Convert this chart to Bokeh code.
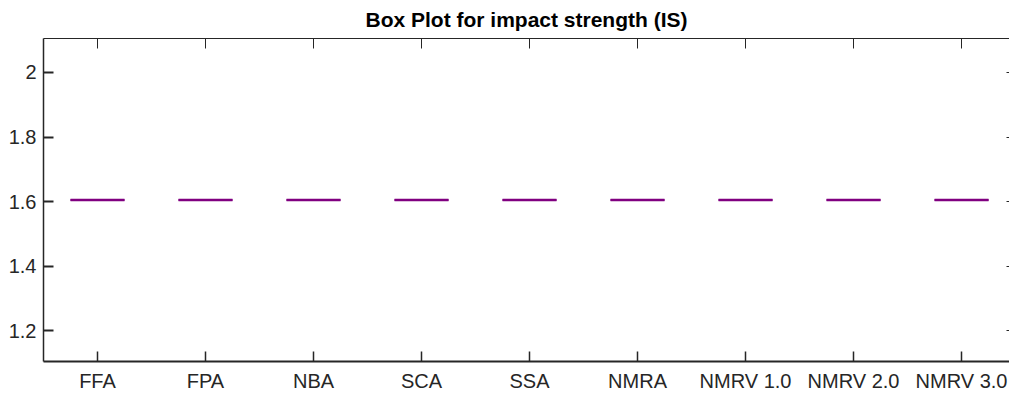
from bokeh.plotting import figure
from bokeh.models import LinearAxis, FixedTicker, Range1d, CustomLabelingPolicy
from bokeh.embed import file_html
from bokeh.resources import INLINE

# Impact strength (IS) per sample group
groups = ["FFA", "FPA", "NBA", "SCA", "SSA", "NMRA", "NMRV 1.0", "NMRV 2.0", "NMRV 3.0"]
q1 = [1.605, 1.605, 1.605, 1.605, 1.605, 1.605, 1.605, 1.605, 1.605]
median = [1.605, 1.605, 1.605, 1.605, 1.605, 1.605, 1.605, 1.605, 1.605]
q3 = [1.605, 1.605, 1.605, 1.605, 1.605, 1.605, 1.605, 1.605, 1.605]
y_ticks = [1.2, 1.4, 1.6, 1.8, 2.0]
y_tick_labels = ["1.2", "1.4", "1.6", "1.8", "2"]

FONT = "Liberation Sans"
AX = "#262626"
PURPLE = "#800080"

pos = list(range(1, len(groups) + 1))
half = 0.25

p = figure(width=1009, height=394, output_backend="svg", toolbar_location=None,
           x_range=Range1d(0.5, 9.444), y_range=Range1d(1.105, 2.105),
           x_axis_location=None, y_axis_location=None)
p.background_fill_color = "white"
p.border_fill_color = "white"
p.outline_line_color = None
p.xgrid.visible = False
p.ygrid.visible = False

p.title.text = "Box Plot for impact strength (IS)"
p.title.align = "center"
p.title.vertical_align = "top"
p.title.text_font = FONT
p.title.text_font_size = "21px"
p.title.text_font_style = "bold"
p.title.text_color = "black"
p.title.standoff = 12

p.min_border_left = 43
p.min_border_right = 0
p.min_border_top = 38
p.min_border_bottom = 0

xt = FixedTicker(ticks=pos)
yt = FixedTicker(ticks=y_ticks)

# mirror axes (top/right) carry tick marks only
no_labels = CustomLabelingPolicy(code="""
    const ids = Array.from(indices)
    for (const i of ids) indices.unset(i)
    return indices
""")

bottom = LinearAxis(ticker=xt, major_label_overrides={i: g for i, g in zip(pos, groups)})
left = LinearAxis(ticker=yt, major_label_overrides={v: s for v, s in zip(y_ticks, y_tick_labels)})
top = LinearAxis(ticker=xt, major_label_policy=no_labels)
right = LinearAxis(ticker=yt, major_label_policy=no_labels)

for ax in (bottom, left, top, right):
    ax.minor_tick_line_color = None
    ax.major_tick_out = 0
    ax.major_tick_in = 10
    ax.axis_line_color = AX
    ax.major_tick_line_color = AX
    ax.major_label_text_font = FONT
    ax.major_label_text_font_size = "20px"
    ax.major_label_text_color = AX

bottom.axis_line_width = 2
bottom.major_tick_line_width = 1.5
bottom.major_label_standoff = 8
left.axis_line_width = 1.5
left.major_tick_line_width = 2
left.major_label_standoff = 7
top.axis_line_width = 1
top.major_label_standoff = 0
top.major_label_text_font_size = "0px"
right.axis_line_alpha = 0
right.major_tick_in = 3
right.major_label_standoff = 0
right.major_label_text_font_size = "0px"

p.add_layout(bottom, "below")
p.add_layout(left, "left")
p.add_layout(top, "above")
p.add_layout(right, "right")

# boxes collapse to a single line since all quartiles coincide
p.quad(left=[x - half for x in pos], right=[x + half for x in pos], bottom=q1, top=q3,
       fill_color=None, line_color=PURPLE, line_width=1)
p.segment(x0=[x - half for x in pos], x1=[x + half for x in pos], y0=median, y1=median,
          line_color=PURPLE, line_width=2.6)

open("out.html", "w").write(file_html(p, INLINE))
